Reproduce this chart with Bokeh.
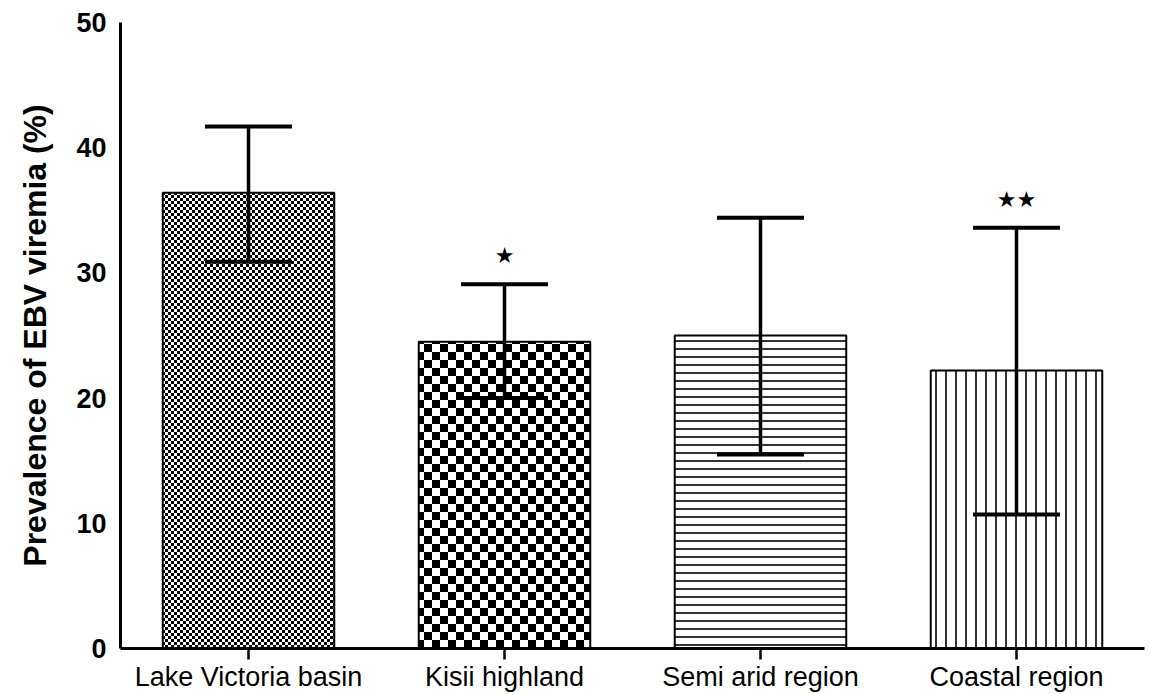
import zlib, struct, base64
from bokeh.plotting import figure
from bokeh.models import ColumnDataSource, Whisker, TeeHead, Range1d, FixedTicker, ImageURLTexture
from bokeh.core.properties import value
from bokeh.embed import file_html
from bokeh.resources import INLINE

# ---- data ----
regions = ["Lake Victoria basin", "Kisii highland", "Semi arid region", "Coastal region"]
prevalence = [36.4, 24.5, 25.0, 22.2]
err_upper = [41.7, 29.1, 34.4, 33.6]
err_lower = [30.9, 20.0, 15.5, 10.7]
star_regions = ["Kisii highland", "Coastal region"]
star_labels = ["★", "★★"]
star_y = [31.4, 35.9]
y_ticks = [0, 10, 20, 30, 40, 50]


def png_checker(cell):
    n = cell * 2
    rows = []
    for yy in range(n):
        row = bytearray([0])
        for xx in range(n):
            black = ((xx // cell) + (yy // cell)) % 2 == 0
            v = 0 if black else 255
            row += bytes([v, v, v])
        rows.append(bytes(row))
    raw = b"".join(rows)

    def chunk(t, d):
        c = struct.pack(">I", len(d)) + t + d
        return c + struct.pack(">I", zlib.crc32(t + d) & 0xffffffff)

    ihdr = struct.pack(">IIBBBBB", n, n, 8, 2, 0, 0, 0)
    png = (b"\x89PNG\r\n\x1a\n" + chunk(b"IHDR", ihdr)
           + chunk(b"IDAT", zlib.compress(raw)) + chunk(b"IEND", b""))
    return "data:image/png;base64," + base64.b64encode(png).decode()


hatch_extra = {
    "fine_checker": ImageURLTexture(url=png_checker(3), repetition="repeat"),
    "coarse_checker": ImageURLTexture(url=png_checker(8), repetition="repeat"),
}
patterns = ["fine_checker", "coarse_checker", "horizontal_line", "vertical_line"]
scales = [6, 16, 8, 10]

src = ColumnDataSource(dict(x=regions, top=prevalence, upper=err_upper, lower=err_lower,
                            pat=patterns, sc=scales))

p = figure(width=1150, height=694, x_range=regions, y_range=Range1d(0, 50),
           output_backend="svg", toolbar_location=None,
           min_border_left=120, min_border_right=6, min_border_top=22, min_border_bottom=45)
p.outline_line_color = None
p.xgrid.grid_line_color = None
p.ygrid.grid_line_color = None
p.background_fill_color = "white"
p.border_fill_color = "white"

p.vbar(x="x", top="top", width=0.67, source=src, fill_color="white", line_color="black",
       line_width=2, hatch_pattern="pat", hatch_scale="sc", hatch_weight=1.6,
       hatch_color="black", hatch_extra=hatch_extra)

w = Whisker(base="x", upper="upper", lower="lower", source=src, line_width=3.5, line_color="black",
            level="overlay",
            upper_head=TeeHead(size=87, line_width=4, line_color="black"),
            lower_head=TeeHead(size=87, line_width=4, line_color="black"))
p.add_layout(w)

p.text(x=star_regions, y=star_y, text=star_labels, text_font=value("DejaVu Sans"),
       text_font_size="22px", text_align="center", text_baseline="middle", text_color="black")

# y axis
p.yaxis.ticker = FixedTicker(ticks=y_ticks)
p.yaxis.axis_line_width = 3
p.yaxis.axis_line_color = "black"
p.yaxis.major_tick_line_color = None
p.yaxis.major_tick_in = 0
p.yaxis.major_tick_out = 0
p.yaxis.minor_tick_line_color = None
p.yaxis.major_label_standoff = 14
p.yaxis.major_label_text_font = "Liberation Sans"
p.yaxis.major_label_text_font_style = "bold"
p.yaxis.major_label_text_font_size = "27px"
p.yaxis.major_label_text_color = "black"
p.yaxis.axis_label = "Prevalence of EBV viremia (%)"
p.yaxis.axis_label_text_font = "Liberation Sans"
p.yaxis.axis_label_text_font_style = "bold"
p.yaxis.axis_label_text_font_size = "32px"
p.yaxis.axis_label_text_color = "black"
p.yaxis.axis_label_standoff = 20

# x axis
p.xaxis.axis_line_width = 3
p.xaxis.axis_line_color = "black"
p.xaxis.major_tick_line_width = 2.5
p.xaxis.major_tick_line_color = "black"
p.xaxis.major_tick_in = 0
p.xaxis.major_tick_out = 11
p.xaxis.minor_tick_line_color = None
p.xaxis.major_label_standoff = 2
p.xaxis.major_label_text_font = "Liberation Sans"
p.xaxis.major_label_text_font_size = "27px"
p.xaxis.major_label_text_color = "black"

open("out.html", "w").write(file_html(p, INLINE))
